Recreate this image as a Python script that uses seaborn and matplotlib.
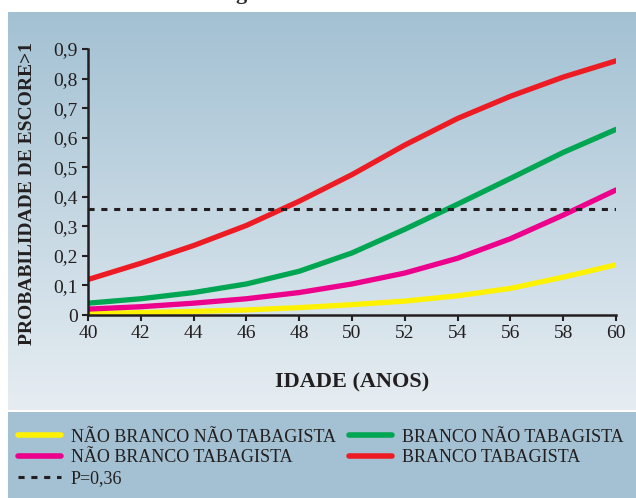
import numpy as np
import pandas as pd
import matplotlib
matplotlib.use("Agg")
import matplotlib.pyplot as plt
import seaborn as sns
from matplotlib.lines import Line2D

# dati
idade = [40, 42, 44, 46, 48, 50, 52, 54, 56, 58, 60]
nao_branco_nao_tab = [0.005, 0.008, 0.012, 0.017, 0.025, 0.035, 0.047, 0.065, 0.090, 0.128, 0.170]
nao_branco_tab = [0.020, 0.028, 0.040, 0.055, 0.076, 0.105, 0.142, 0.192, 0.258, 0.338, 0.423]
branco_nao_tab = [0.040, 0.055, 0.076, 0.105, 0.148, 0.210, 0.290, 0.375, 0.462, 0.550, 0.628]
branco_tab = [0.120, 0.175, 0.235, 0.303, 0.385, 0.475, 0.575, 0.665, 0.740, 0.805, 0.860]
p_corte = 0.36

series = ["NÃO BRANCO NÃO TABAGISTA", "NÃO BRANCO TABAGISTA",
          "BRANCO NÃO TABAGISTA", "BRANCO TABAGISTA"]
cores = ["#FFF200", "#EC008C", "#00A651", "#ED1C24"]

df = pd.DataFrame({
    "idade": idade * 4,
    "prob": nao_branco_nao_tab + nao_branco_tab + branco_nao_tab + branco_tab,
    "grupo": sum([[s] * len(idade) for s in series], []),
})

sns.set_style("ticks")
plt.rcParams["font.family"] = ["Liberation Serif", "DejaVu Serif"]

fig = plt.figure(figsize=(6.36, 4.98), dpi=100)

# sfondo: pannello sfumato + fascia legenda
bg = fig.add_axes([0, 0, 1, 1], zorder=-10)
bg.set_xlim(0, 636)
bg.set_ylim(498, 0)
bg.axis("off")
top = np.array([163, 193, 211]) / 255
bot = np.array([230, 237, 242]) / 255
t = np.linspace(0, 1, 256)[:, None, None]
grad = top * (1 - t) + bot * t
bg.imshow(grad, extent=[8, 636, 410, 12], aspect="auto")
bg.add_patch(plt.Rectangle((8, 412), 628, 86, color="#a3c1d3", lw=0))

ax = fig.add_axes([88 / 636, 1 - 315 / 498, (616 - 88) / 636, (315 - 49) / 498])
ax.patch.set_alpha(0)

sns.lineplot(data=df, x="idade", y="prob", hue="grupo", palette=cores,
             hue_order=series, lw=3.8, ax=ax, legend=False)
ax.plot([idade[0], idade[-1]], [p_corte, p_corte], ls=(0, (2, 2.2)),
        color="#231F20", lw=2.2)

ax.set_xlim(40, 60)
ax.set_ylim(0, 0.9)
ax.set_xticks(idade)
ax.set_yticks(np.arange(0, 0.91, 0.1))
ax.set_yticklabels(["0"] + [f"0,{i}" for i in range(1, 10)])
ax.tick_params(labelsize=14, width=1.5, length=4, color="#231F20", labelcolor="#231F20")
for s in ["left", "bottom"]:
    ax.spines[s].set_linewidth(1.8)
    ax.spines[s].set_color("#231F20")
sns.despine(ax=ax)
ax.set_xlabel("")
ax.set_ylabel("")

fig.text(352 / 636, 1 - 382 / 498, "IDADE (ANOS)", ha="center", va="center",
         fontsize=16, fontweight="bold", color="#231F20")
fig.text(28 / 636, 1 - 194 / 498, "PROBABILIDADE DE ESCORE>1", ha="center", va="center",
         rotation=90, fontsize=14, fontweight="bold", color="#231F20")
# titolo tagliato in alto nell'originale
fig.text(241 / 636, 1.012, "g", ha="center", va="center", fontsize=16, fontweight="bold")

handles = [Line2D([], [], color=cores[0], lw=4),
           Line2D([], [], color=cores[1], lw=4),
           Line2D([], [], color="#231F20", lw=2.2, ls=(0, (2, 2.2))),
           Line2D([], [], color=cores[2], lw=4),
           Line2D([], [], color=cores[3], lw=4)]
labels = [series[0], series[1], "P=0,36", series[2], series[3]]
fig.legend(handles, labels, ncol=2, loc="upper left", bbox_to_anchor=(14 / 636, 1 - 425 / 498),
           frameon=False, fontsize=13, handlelength=2.4, handletextpad=0.55,
           columnspacing=0.7, labelspacing=0.2, borderaxespad=0, borderpad=0.2,
           labelcolor="#231F20")

fig.savefig("out.png", dpi=100)
